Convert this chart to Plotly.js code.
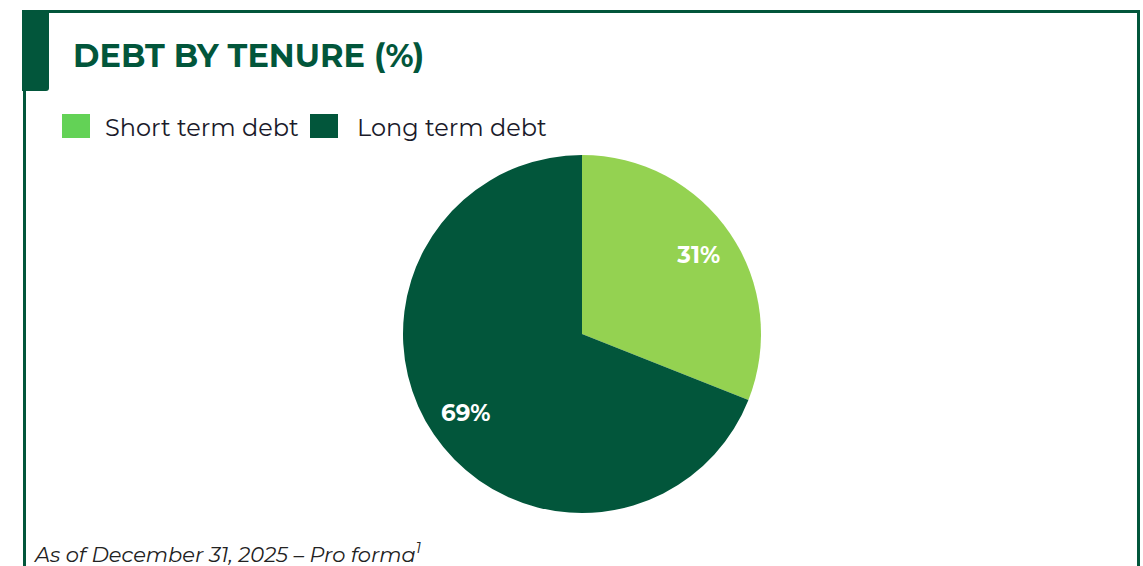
<!DOCTYPE html>
<html><head><meta charset="utf-8">
<script src="https://cdn.plot.ly/plotly-3.0.1.min.js"></script>
<style>html,body{margin:0;padding:0;background:#fff}#c{width:1143px;height:566px}</style>
</head><body><div id="c"></div>
<script>
const categories = ["Short term debt", "Long term debt"];
const values = [31, 69];
const sliceColors = ["#94D251", "#02563B"];
const legendColors = ["#63D256", "#02563B"];
const chartTitle = "DEBT BY TENURE (%)";
const footnote = "As of December 31, 2025 – Pro forma<sup>1</sup>";

const W = 1143, H = 566;
const px = x => x / W, py = y => 1 - y / H;
const dark = "#02563B";
const font = "Montserrat, 'DejaVu Sans', 'Noto Sans', sans-serif";

const cx = 582, cy = 334, r = 179;
const domain = {x: [px(cx - r), px(cx + r)], y: [py(cy + r), py(cy - r)]};
const pieBase = {
  type: "pie", labels: categories, values: values, sort: false, direction: "clockwise",
  rotation: 0, domain: domain, showlegend: false
};
const trace = Object.assign({}, pieBase, {
  marker: {colors: sliceColors, line: {width: 0}}, textinfo: "none", hoverinfo: "label+percent"
});
const labelTrace = Object.assign({}, pieBase, {
  hole: 0.57, marker: {colors: ["rgba(0,0,0,0)", "rgba(0,0,0,0)"], line: {width: 0}},
  textinfo: "percent", texttemplate: "%{percent:.0%}", textposition: "inside",
  insidetextorientation: "horizontal",
  textfont: {family: font, size: 23, color: "#ffffff", weight: "bold"}, hoverinfo: "skip"
});

const shapes = [
  {type: "rect", xref: "paper", yref: "paper", x0: px(22), x1: px(1140), y0: py(13), y1: py(10), fillcolor: dark, line: {width: 0}},
  {type: "rect", xref: "paper", yref: "paper", x0: px(1137), x1: px(1140), y0: py(566), y1: py(10), fillcolor: dark, line: {width: 0}},
  {type: "rect", xref: "paper", yref: "paper", x0: px(23), x1: px(26), y0: py(566), y1: py(10), fillcolor: dark, line: {width: 0}},
  {type: "path", xref: "paper", yref: "paper", fillcolor: dark, line: {width: 0},
   path: `M ${px(22)} ${py(10)} L ${px(49)} ${py(10)} L ${px(49)} ${py(88)} Q ${px(49)} ${py(91)} ${px(46)} ${py(91)} L ${px(22)} ${py(91)} Z`}
];
const annotations = [
  {xref: "paper", yref: "paper", x: px(71), y: py(55), xanchor: "left", yanchor: "middle", showarrow: false,
   text: "<b>" + chartTitle + "</b>", font: {family: font, size: 32, color: dark}},
  {xref: "paper", yref: "paper", x: px(31), y: py(553), xanchor: "left", yanchor: "middle", showarrow: false,
   text: "<i>" + footnote + "</i>", font: {family: font, size: 21, color: "#222222"}}
];
const legendX = [[62, 103], [310, 355]];
categories.forEach((c, i) => {
  const [sx, tx] = legendX[i];
  shapes.push({type: "rect", xref: "paper", yref: "paper", x0: px(sx), x1: px(sx + 28), y0: py(138), y1: py(114),
    fillcolor: legendColors[i], line: {width: 0}});
  annotations.push({xref: "paper", yref: "paper", x: px(tx), y: py(127), xanchor: "left", yanchor: "middle", showarrow: false,
    text: c, font: {family: font, size: 24, color: "#1a1a2a"}});
});

Plotly.newPlot("c", [trace, labelTrace], {
  width: W, height: H, margin: {l: 0, r: 0, t: 0, b: 0},
  paper_bgcolor: "#ffffff", plot_bgcolor: "#ffffff", showlegend: false,
  shapes: shapes, annotations: annotations
}, {displayModeBar: false, staticPlot: true});
</script></body></html>
